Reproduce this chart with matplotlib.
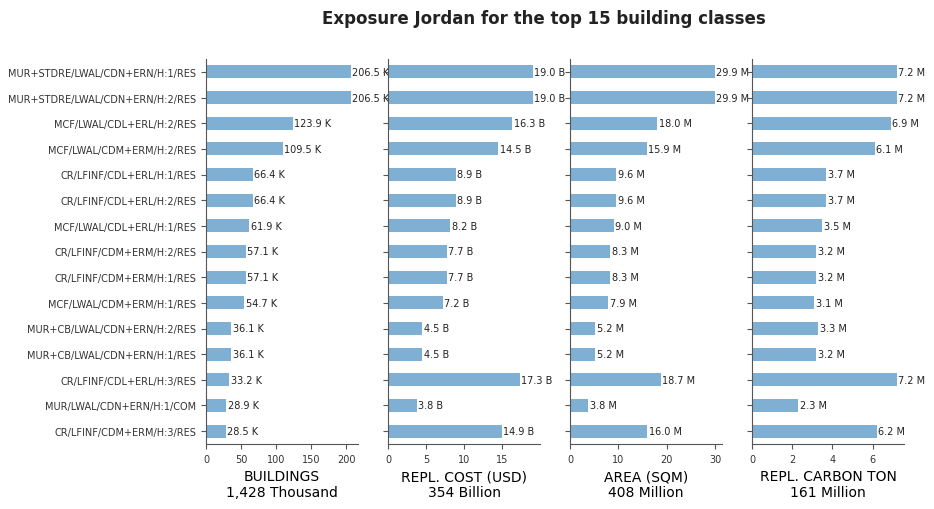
import numpy as np
import matplotlib
matplotlib.use('Agg')
import matplotlib.pyplot as plt

# building classes, top to bottom
classes = ['MUR+STDRE/LWAL/CDN+ERN/H:1/RES', 'MUR+STDRE/LWAL/CDN+ERN/H:2/RES',
           'MCF/LWAL/CDL+ERL/H:2/RES', 'MCF/LWAL/CDM+ERM/H:2/RES',
           'CR/LFINF/CDL+ERL/H:1/RES', 'CR/LFINF/CDL+ERL/H:2/RES',
           'MCF/LWAL/CDL+ERL/H:1/RES', 'CR/LFINF/CDM+ERM/H:2/RES',
           'CR/LFINF/CDM+ERM/H:1/RES', 'MCF/LWAL/CDM+ERM/H:1/RES',
           'MUR+CB/LWAL/CDN+ERN/H:2/RES', 'MUR+CB/LWAL/CDN+ERN/H:1/RES',
           'CR/LFINF/CDL+ERL/H:3/RES', 'MUR/LWAL/CDN+ERN/H:1/COM',
           'CR/LFINF/CDM+ERM/H:3/RES']
buildings = [206.5, 206.5, 123.9, 109.5, 66.4, 66.4, 61.9, 57.1, 57.1, 54.7, 36.1, 36.1, 33.2, 28.9, 28.5]
cost = [19.0, 19.0, 16.3, 14.5, 8.9, 8.9, 8.2, 7.7, 7.7, 7.2, 4.5, 4.5, 17.3, 3.8, 14.9]
area = [29.9, 29.9, 18.0, 15.9, 9.6, 9.6, 9.0, 8.3, 8.3, 7.9, 5.2, 5.2, 18.7, 3.8, 16.0]
carbon = [7.2, 7.2, 6.9, 6.1, 3.7, 3.7, 3.5, 3.2, 3.2, 3.1, 3.3, 3.2, 7.2, 2.3, 6.2]

panels = [(buildings, 'K', 'BUILDINGS\n1,428 Thousand'),
          (cost, 'B', 'REPL. COST (USD)\n354 Billion'),
          (area, 'M', 'AREA (SQM)\n408 Million'),
          (carbon, 'M', 'REPL. CARBON TON\n161 Million')]

fig = plt.figure(figsize=(9.34, 5.10), dpi=100)
grey = '#555555'
y = np.arange(len(classes))

for i, (vals, unit, label) in enumerate(panels):
    ax = fig.add_axes([(206 + i * 182) / 934, 65 / 510, 152 / 934, 385 / 510])
    ax.patch.set_visible(False)
    ax.barh(y, vals, height=0.5, color='#7fafd3')
    ax.set_ylim(len(classes) - 0.5, -0.5)
    ax.set_xlim(0, max(vals) * 1.05)
    for yy, v in zip(y, vals):
        ax.annotate('%.1f %s' % (v, unit), (v, yy), xytext=(1, 0),
                    textcoords='offset points', va='center', ha='left',
                    fontsize=7, color='#222222', annotation_clip=False)
    ax.set_yticks(y)
    if i == 0:
        ax.set_yticklabels(classes, fontsize=7, color='#333333')
    else:
        ax.set_yticklabels([])
    ax.tick_params(axis='x', labelsize=7, colors='#333333')
    ax.tick_params(axis='both', color=grey)
    for s in ['top', 'right']:
        ax.spines[s].set_visible(False)
    for s in ['left', 'bottom']:
        ax.spines[s].set_color(grey)
    ax.set_xlabel(label, fontsize=10)

fig.suptitle('Exposure Jordan for the top 15 building classes', x=0.582, y=0.98,
             fontsize=12, fontweight='bold', color='#222222')
fig.savefig('out.png', dpi=100)
